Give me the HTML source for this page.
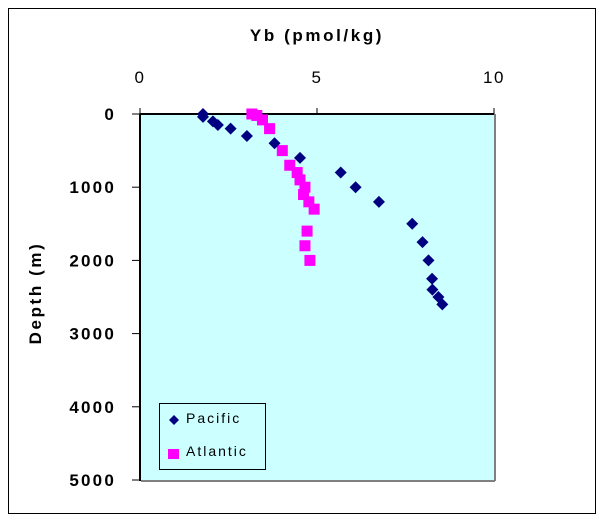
<!DOCTYPE html>
<html><head><meta charset="utf-8"><style>
body{margin:0;background:#fff;font-family:"Liberation Sans",Arial,sans-serif}
svg text{font-family:"Liberation Sans",Arial,sans-serif}
</style></head><body>
<svg width="603" height="523" xmlns="http://www.w3.org/2000/svg">
<rect x="0" y="0" width="603" height="523" fill="#fff"/>
<rect x="8.5" y="8.5" width="587" height="505" fill="#fff" stroke="#000" stroke-width="1"/>
<rect x="140" y="114" width="354" height="366" fill="#ccffff"/>
<line x1="141" y1="481" x2="495" y2="481" stroke="#808080" stroke-width="2"/>
<line x1="495" y1="114" x2="495" y2="481" stroke="#808080" stroke-width="2"/>
<g id="axes"></g>
<g id="marks"></g>
<text x="317" y="41" text-anchor="middle" font-size="17" font-weight="bold" letter-spacing="2.6">Yb (pmol/kg)</text>
<text transform="translate(41,293) rotate(-90)" text-anchor="middle" font-size="17" font-weight="bold" letter-spacing="2.6">Depth (m)</text>
<g>
<rect x="159.5" y="403.5" width="106" height="66" fill="#ccffff" stroke="#000" stroke-width="1"/>
<polygon points="174,415 179,420 174,425 169,420" fill="#000080"/>
<text x="186" y="423" font-size="14" letter-spacing="2">Pacific</text>
<rect x="168" y="449" width="11" height="10" fill="#ff00ff"/>
<text x="186" y="456" font-size="14" letter-spacing="2">Atlantic</text>
</g>
</svg>
<script>
const xTicks=[0,5,10];
const yTicks=[0,1000,2000,3000,4000,5000];
const pacificYb=[1.78,1.78,2.06,2.2,2.56,3.02,3.8,4.52,5.67,6.09,6.75,7.69,7.98,8.15,8.25,8.26,8.43,8.54];
const pacificDepth=[0,40,100,150,200,300,400,600,800,1000,1200,1500,1750,2000,2250,2400,2500,2600];
const atlanticYb=[3.16,3.3,3.46,3.66,4.02,4.23,4.44,4.52,4.66,4.62,4.77,4.92,4.72,4.66,4.8];
const atlanticDepth=[0,20,80,200,500,700,800,900,1000,1100,1200,1300,1600,1800,2000];
const NS="http://www.w3.org/2000/svg";
function xs(v){return 140+v*35.4;}
function ys(d){return 114+d*0.0732;}
const axes=document.getElementById('axes'), marks=document.getElementById('marks');
function mk(tag,attrs,parent){const e=document.createElementNS(NS,tag);for(const k in attrs)e.setAttribute(k,attrs[k]);parent.appendChild(e);return e;}
mk('line',{x1:140,y1:114,x2:494,y2:114,stroke:'#000','stroke-width':2},axes);
mk('line',{x1:140,y1:114,x2:140,y2:481,stroke:'#000','stroke-width':2},axes);
xTicks.forEach(t=>{
 mk('line',{x1:xs(t),y1:108,x2:xs(t),y2:114,stroke:'#000'},axes);
 const tx=mk('text',{x:xs(t),y:83,'text-anchor':'middle','font-size':17,'letter-spacing':1.5},axes);
 
 
 tx.textContent=t;
});
yTicks.forEach(t=>{
 mk('line',{x1:132,y1:ys(t),x2:140,y2:ys(t),stroke:'#000'},axes);
 const tx=mk('text',{x:116,y:ys(t)+6,'text-anchor':'end','font-size':17,'font-weight':'bold','letter-spacing':2.2},axes);
 
 
 tx.textContent=t;
});
atlanticYb.forEach((v,i)=>{
 const r=mk('rect',{x:xs(v)-5.5,y:ys(atlanticDepth[i])-5.5,width:11,height:11,fill:'#ff00ff'},marks);
 
 
});
pacificYb.forEach((v,i)=>{
 const cx=xs(v),cy=ys(pacificDepth[i]);
 const p=mk('polygon',{points:`${cx},${cy-6} ${cx+6},${cy} ${cx},${cy+6} ${cx-6},${cy}`,fill:'#000080'},marks);
 
 
});
</script>
</body></html>
